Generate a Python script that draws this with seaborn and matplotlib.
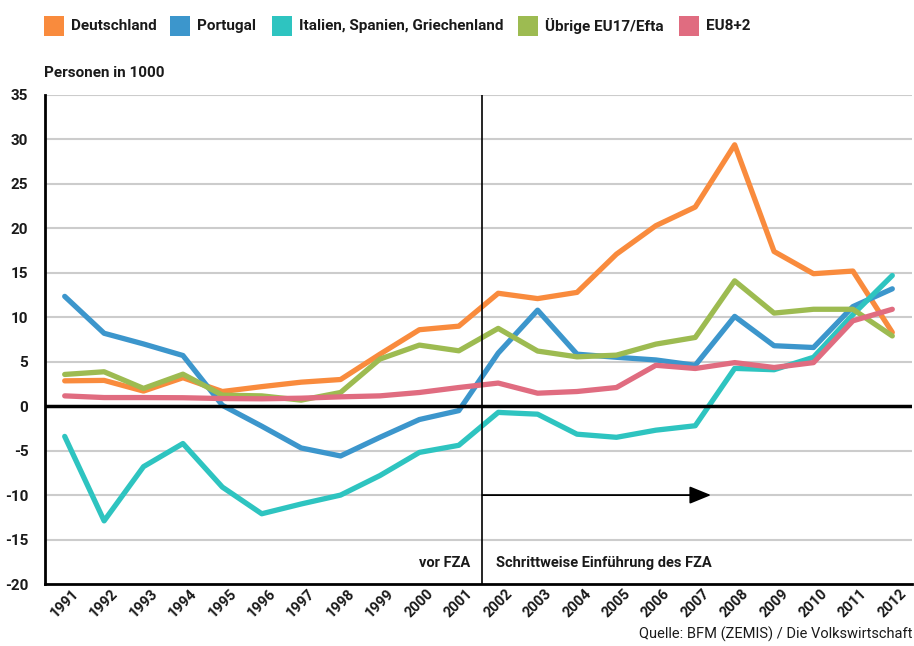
import numpy as np
import pandas as pd
import matplotlib
matplotlib.use("Agg")
import matplotlib.pyplot as plt
from matplotlib.patches import Rectangle
import seaborn as sns

years = list(range(1991, 2013))
deutschland = [2.85, 2.9, 1.7, 3.2, 1.65, 2.2, 2.7, 3.0, 5.85, 8.6, 9.0,
               12.7, 12.1, 12.8, 17.1, 20.3, 22.4, 29.4, 17.4, 14.9, 15.2, 8.3]
portugal = [12.35, 8.2, 7.0, 5.7, 0.1, -2.25, -4.7, -5.6, -3.5, -1.5, -0.5,
            5.97, 10.8, 5.85, 5.5, 5.2, 4.6, 10.1, 6.8, 6.6, 11.2, 13.2]
italien = [-3.4, -12.9, -6.8, -4.2, -9.1, -12.1, -11.0, -10.0, -7.8, -5.2, -4.4,
           -0.7, -0.9, -3.15, -3.5, -2.7, -2.2, 4.25, 4.1, 5.5, 10.3, 14.7]
uebrige = [3.57, 3.87, 2.0, 3.6, 1.24, 1.16, 0.68, 1.54, 5.3, 6.87, 6.23,
           8.75, 6.2, 5.55, 5.74, 6.98, 7.73, 14.1, 10.47, 10.9, 10.9, 7.9]
eu8 = [1.16, 0.97, 0.97, 0.95, 0.86, 0.83, 0.9, 1.05, 1.16, 1.54, 2.1,
       2.6, 1.46, 1.65, 2.1, 4.6, 4.24, 4.9, 4.35, 4.9, 9.6, 10.9]

series_names = ["Deutschland", "Portugal", "Italien, Spanien, Griechenland",
                "Übrige EU17/Efta", "EU8+2"]
colors = ["#F98B3D", "#3C96CC", "#2EC4C0", "#9DBB51", "#E06C80"]
values = [deutschland, portugal, italien, uebrige, eu8]

rows = []
for name, vals in zip(series_names, values):
    for y, v in zip(years, vals):
        rows.append({"Jahr": y, "Wert": v, "Serie": name})
df = pd.DataFrame(rows)

sns.set_theme(style="white")
plt.rcParams['font.family'] = ['Roboto', 'DejaVu Sans']

W, H = 914, 646
fig = plt.figure(figsize=(W/100, H/100), dpi=100)
ax = fig.add_axes([45/W, 1-584/H, (912-45)/W, (584-95)/H])

for v in range(-15, 36, 5):
    if v != 0:
        ax.axhline(v, color="#CCCCCC", lw=1.5, zorder=0)

sns.lineplot(data=df, x="Jahr", y="Wert", hue="Serie", palette=colors,
             hue_order=series_names, lw=3.8, ax=ax, legend=False,
             zorder=3)

ax.axhline(0, color="black", lw=2.5, zorder=4)
ax.axvline(2001.6, color="black", lw=1.2, zorder=5)
ax.annotate("", xy=(2007.4, -10), xytext=(2001.6, -10),
            arrowprops=dict(arrowstyle="-|>,head_length=1.1,head_width=0.45",
                            color="black", lw=1.3, shrinkA=0, shrinkB=0),
            zorder=5)

ax.text(2001.3, -17.6, "vor FZA", ha="right", va="center", fontsize=10.5,
        fontweight="bold", color="#1a1a1a")
ax.text(2001.95, -17.6, "Schrittweise Einführung des FZA", ha="left",
        va="center", fontsize=10.5, fontweight="bold", color="#1a1a1a")

ax.set_xlim(1990.5, 2012.5)
ax.set_ylim(-20, 35)
ax.set_yticks(range(-20, 36, 5))
ax.set_xticks(years)
ax.set_xticklabels([str(y) for y in years], rotation=45, ha="center",
                   va="center", rotation_mode="anchor", fontsize=10.5,
                   fontweight="bold", color="#1a1a1a")
ax.set_yticklabels([str(v) for v in range(-20, 36, 5)], fontsize=11,
                   fontweight="bold", color="#1a1a1a")
ax.tick_params(axis="y", length=0, pad=12)
ax.tick_params(axis="x", length=0, pad=14)
ax.set_xlabel("")
ax.set_ylabel("")

for s in ["top", "right"]:
    ax.spines[s].set_visible(False)
ax.spines["left"].set_color("black")
ax.spines["left"].set_linewidth(2)
ax.spines["bottom"].set_color("black")
ax.spines["bottom"].set_linewidth(2)

fig.text(44/W, 1-73/H, "Personen in 1000", ha="left", va="center",
         fontsize=11, fontweight="bold", color="#1a1a1a")
fig.text(912/W, 1-634/H, "Quelle: BFM (ZEMIS) / Die Volkswirtschaft",
         ha="right", va="center", fontsize=10.5, fontweight="normal",
         color="#1a1a1a")

# legend
sq_x = [44, 170, 272, 518, 679]
for x0, c, name in zip(sq_x, colors, series_names):
    fig.add_artist(Rectangle((x0/W, 1-36/H), 20/W, 20/H, facecolor=c,
                             edgecolor="none", transform=fig.transFigure))
    fig.text((x0+27)/W, 1-26/H, name, ha="left", va="center", fontsize=11,
             fontweight="bold", color="#1a1a1a")

fig.savefig("out.png", dpi=100)
